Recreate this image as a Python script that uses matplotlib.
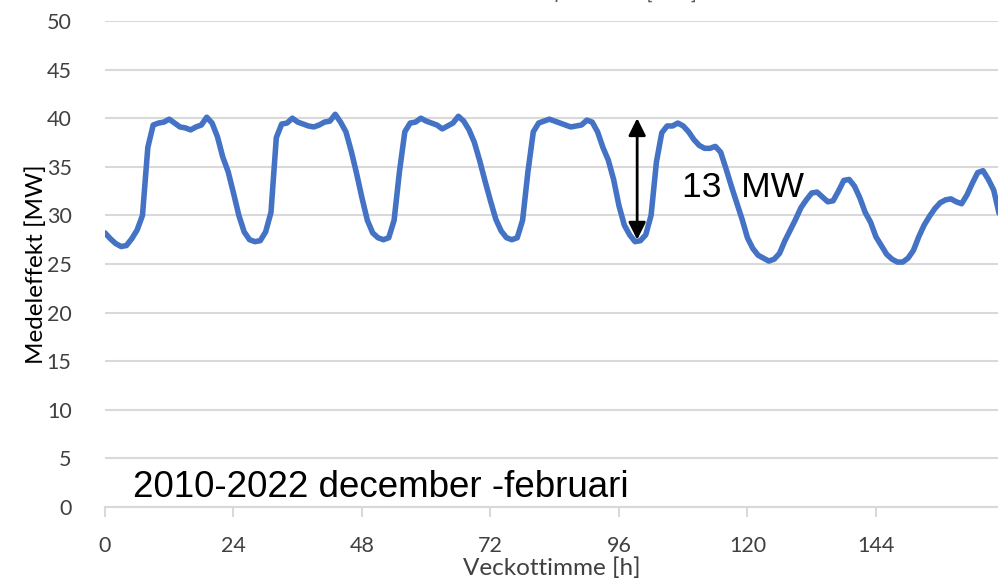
import matplotlib.pyplot as plt
import numpy as np

# Medeleffekt per veckotimme (läst ur diagrammet)
timmar = np.arange(168)
effekt = [
    28.2, 27.6, 27.1, 26.8, 26.9, 27.6, 28.5, 30.0, 37.0, 39.3, 39.5, 39.6,
    39.9, 39.5, 39.1, 39.0, 38.8, 39.1, 39.3, 40.1, 39.5, 38.1, 36.0, 34.5,
    32.3, 30.0, 28.3, 27.5, 27.3, 27.4, 28.3, 30.3, 38.0, 39.4, 39.5, 40.0,
    39.6, 39.4, 39.2, 39.1, 39.3, 39.6, 39.7, 40.4, 39.6, 38.6, 36.6, 34.3,
    31.8, 29.5, 28.2, 27.7, 27.5, 27.7, 29.5, 34.5, 38.6, 39.5, 39.6, 40.0,
    39.7, 39.5, 39.3, 38.9, 39.2, 39.5, 40.2, 39.7, 38.8, 37.5, 35.6, 33.5,
    31.5, 29.6, 28.4, 27.7, 27.5, 27.7, 29.5, 34.5, 38.6, 39.5, 39.7, 39.9,
    39.7, 39.5, 39.3, 39.1, 39.2, 39.3, 39.8, 39.6, 38.6, 37.0, 35.7, 33.7,
    31.0, 29.0, 28.0, 27.3, 27.4, 28.0, 30.0, 35.5, 38.5, 39.2, 39.2, 39.5,
    39.2, 38.6, 37.8, 37.2, 36.9, 36.9, 37.1, 36.5, 34.8, 33.0, 31.3, 29.6,
    27.7, 26.6, 25.9, 25.6, 25.3, 25.5, 26.1, 27.4, 28.5, 29.6, 30.8, 31.6,
    32.3, 32.4, 31.9, 31.4, 31.5, 32.5, 33.6, 33.7, 33.0, 31.8, 30.3, 29.3,
    27.8, 26.9, 26.0, 25.5, 25.2, 25.2, 25.6, 26.4, 27.8, 29.0, 29.9, 30.7,
    31.3, 31.6, 31.7, 31.4, 31.2, 32.1, 33.3, 34.4, 34.6, 33.7, 32.6, 30.2,
]
xticks = [0, 24, 48, 72, 96, 120, 144]
yticks = list(range(0, 51, 5))

# pil för skillnad dag/natt
pil_x = 99.4
pil_topp = 40.0
pil_botten = 27.5

fig = plt.figure(figsize=(9.98, 5.84), dpi=100)
ax = fig.add_axes([105 / 998, 1 - 507 / 584, 1 - 105 / 998, (507 - 21) / 584])

ax.plot(timmar, effekt, color='#4472C4', linewidth=4, solid_joinstyle='round',
        solid_capstyle='round', zorder=3)

ax.set_xlim(0, 166.8)
ax.set_ylim(0, 50)
ax.set_xticks(xticks)
ax.set_yticks(yticks)
ax.grid(axis='y', color='#d9d9d9', linewidth=1.5)
ax.set_axisbelow(True)
for s in ['top', 'right', 'left']:
    ax.spines[s].set_visible(False)
ax.spines['bottom'].set_color('#d9d9d9')
ax.spines['bottom'].set_linewidth(1.5)
ax.tick_params(axis='x', colors='#d9d9d9', length=7, width=1.5, labelcolor='#404040',
               labelsize=15.5, pad=14)
ax.tick_params(axis='y', length=0, labelcolor='#404040', labelsize=15.5, pad=24)
for lab in ax.get_xticklabels() + ax.get_yticklabels():
    lab.set_family('Lato')

ax.set_xlabel('Veckottimme [h]', fontsize=17.5, color='#404040', family='Lato', labelpad=1)
ax.set_ylabel('Medeleffekt [MW]', fontsize=17.5, color='#000000', family='Lato', labelpad=0)

ax.annotate('', xy=(pil_x, pil_topp), xytext=(pil_x, pil_botten),
            arrowprops=dict(arrowstyle='<|-|>', color='black', lw=2,
                            mutation_scale=26, shrinkA=0, shrinkB=0), zorder=4)
ax.text(107.8, 32.9, '13  MW', fontsize=25.5, family='Liberation Sans', va='center', ha='left')
ax.text(5.2, 1.0, '2010-2022 december -februari', fontsize=26.5, family='Liberation Sans',
        va='baseline', ha='left')

fig.text(697 / 998, 1 + 1 / 584, 'Medeleffekt per timme [MW]', fontsize=14, color='#595959',
         family='Lato', ha='right', va='baseline')

fig.savefig('out.png', dpi=100)
